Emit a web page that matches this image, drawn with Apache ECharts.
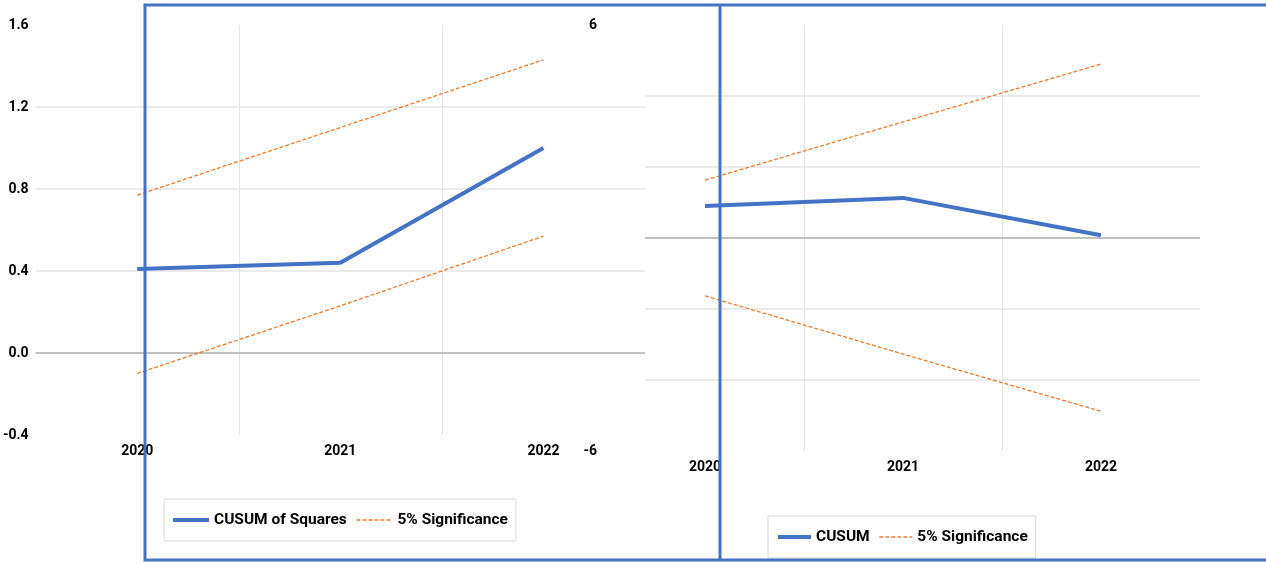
<!DOCTYPE html>
<html>
<head>
<meta charset="utf-8">
<script src="https://cdn.jsdelivr.net/npm/echarts@6/dist/echarts.min.js"></script>
<style>
  html, body { margin: 0; padding: 0; background: #fff; }
  #chart { width: 1266px; height: 563px; }
</style>
</head>
<body>
<div id="chart"></div>
<script>
// years on both panels
const YEARS = ['2020', '2021', '2022'];

// left panel: CUSUM of squares with 5% bands
const CUSUMSQ = [0.41, 0.44, 1.00];
const CUSUMSQ_UPPER = [0.77, 1.10, 1.43];
const CUSUMSQ_LOWER = [-0.10, 0.23, 0.57];
const CUSUMSQ_TICKS = { min: -0.4, max: 1.6, step: 0.4 };

// right panel: CUSUM with 5% bands
const CUSUM = [0.90, 1.13, 0.08];
const CUSUM_UPPER = [1.63, 3.27, 4.90];
const CUSUM_LOWER = [-1.63, -3.27, -4.88];
const CUSUM_TICKS = { min: -6, max: 6, step: 2 };

const FONT = 'Roboto, "Noto Sans", sans-serif';
const BLUE = '#4472C4';
const ORANGE = '#ED7D31';
const GRID_LINE = '#e4e4e4';
const ZERO_LINE = '#c0c0c0';

const chart = echarts.init(document.getElementById('chart'));

const label = { color: '#000', fontFamily: FONT, fontWeight: 'bold', fontSize: 14 };

function mainLine(name, xi, data, z) {
  return {
    name: name, type: 'line', xAxisIndex: xi, yAxisIndex: xi, data: data,
    symbol: 'none', z: z, silent: true,
    lineStyle: { color: BLUE, width: 4 }, itemStyle: { color: BLUE },
    markLine: {
      z: z - 0.5, silent: true, symbol: 'none', label: { show: false },
      lineStyle: { color: ZERO_LINE, width: 2, type: 'solid' },
      data: [{ yAxis: 0 }]
    }
  };
}
function bandLine(xi, data, z) {
  return {
    name: '5% Significance', type: 'line', xAxisIndex: xi, yAxisIndex: xi, data: data,
    symbol: 'none', z: z, silent: true,
    lineStyle: { color: ORANGE, width: 1.3, type: [4, 2] }, itemStyle: { color: ORANGE }
  };
}

const legendBase = {
  itemHeight: 12, itemGap: 9, selectedMode: false,
  borderColor: '#d9d9d9', borderWidth: 1,
  itemStyle: { color: 'rgba(0,0,0,0)', borderWidth: 0, opacity: 0 },
  lineStyle: { width: 'inherit' },
  textStyle: { color: '#000', fontFamily: FONT, fontWeight: 'bold', fontSize: 15.5 }
};

chart.setOption({
  backgroundColor: '#fff',
  animation: false,
  textStyle: { fontFamily: FONT },
  grid: [
    // left panel sits on top of the right one and hides what is under it
    { left: 35, top: 25, width: 610, height: 410, show: true, backgroundColor: '#fff', borderWidth: 0, z: 1.5 },
    { left: 606, top: 25, width: 594, height: 426, show: false, z: 0 }
  ],
  xAxis: [
    {
      type: 'category', gridIndex: 0, data: YEARS, z: 1.6,
      axisLine: { show: false }, axisTick: { show: false },
      axisLabel: Object.assign({ margin: 9 }, label),
      splitLine: { show: true, showMinLine: false, showMaxLine: false, lineStyle: { color: GRID_LINE, width: 1 } }
    },
    {
      type: 'category', gridIndex: 1, data: YEARS, z: 0,
      axisLine: { show: false }, axisTick: { show: false },
      axisLabel: Object.assign({ margin: 9 }, label),
      splitLine: { show: true, showMinLine: false, showMaxLine: false, lineStyle: { color: GRID_LINE, width: 1 } }
    }
  ],
  yAxis: [
    {
      type: 'value', gridIndex: 0, z: 1.6, position: 'left',
      min: CUSUMSQ_TICKS.min, max: CUSUMSQ_TICKS.max, interval: CUSUMSQ_TICKS.step,
      axisLine: { show: false }, axisTick: { show: false },
      axisLabel: Object.assign({ margin: 7, formatter: v => v.toFixed(1) }, label),
      splitLine: { show: true, showMinLine: false, showMaxLine: false, lineStyle: { color: GRID_LINE, width: 1.5 } }
    },
    {
      type: 'value', gridIndex: 1, z: 0, position: 'left',
      min: CUSUM_TICKS.min, max: CUSUM_TICKS.max, interval: CUSUM_TICKS.step,
      axisLine: { show: false }, axisTick: { show: false },
      axisLabel: { show: false },
      splitLine: { show: true, showMinLine: false, showMaxLine: false, lineStyle: { color: GRID_LINE, width: 1.5 } }
    },
    {
      // labels only, only the end ticks of the right panel are visible
      type: 'value', gridIndex: 1, z: 5, position: 'left', offset: 0,
      min: CUSUM_TICKS.min, max: CUSUM_TICKS.max, interval: CUSUM_TICKS.step,
      axisLine: { show: false }, axisTick: { show: false }, splitLine: { show: false },
      axisLabel: Object.assign({
        margin: 9,
        formatter: v => (v === CUSUM_TICKS.min || v === CUSUM_TICKS.max) ? String(v) : ''
      }, label)
    }
  ],
  legend: [
    Object.assign({}, legendBase, {
      data: ['CUSUM of Squares', '5% Significance'],
      left: 164, top: 499, itemWidth: 36, padding: [13, 8, 13, 7]
    }),
    Object.assign({}, legendBase, {
      data: ['CUSUM', '5% Significance'],
      left: 768, top: 516, itemWidth: 33, padding: [13, 8, 13, 8]
    })
  ],
  series: [
    mainLine('CUSUM', 1, CUSUM, 1),
    bandLine(1, CUSUM_UPPER, 1),
    bandLine(1, CUSUM_LOWER, 1),
    mainLine('CUSUM of Squares', 0, CUSUMSQ, 4),
    bandLine(0, CUSUMSQ_UPPER, 4),
    bandLine(0, CUSUMSQ_LOWER, 4)
  ],
  graphic: [
    { type: 'rect', z: 100, silent: true, shape: { x: 145, y: 5, width: 1140, height: 555 },
      style: { fill: 'none', stroke: BLUE, lineWidth: 3 } },
    { type: 'line', z: 100, silent: true, shape: { x1: 720, y1: 5, x2: 720, y2: 560 },
      style: { stroke: BLUE, lineWidth: 3 } }
  ]
});
</script>
</body>
</html>
